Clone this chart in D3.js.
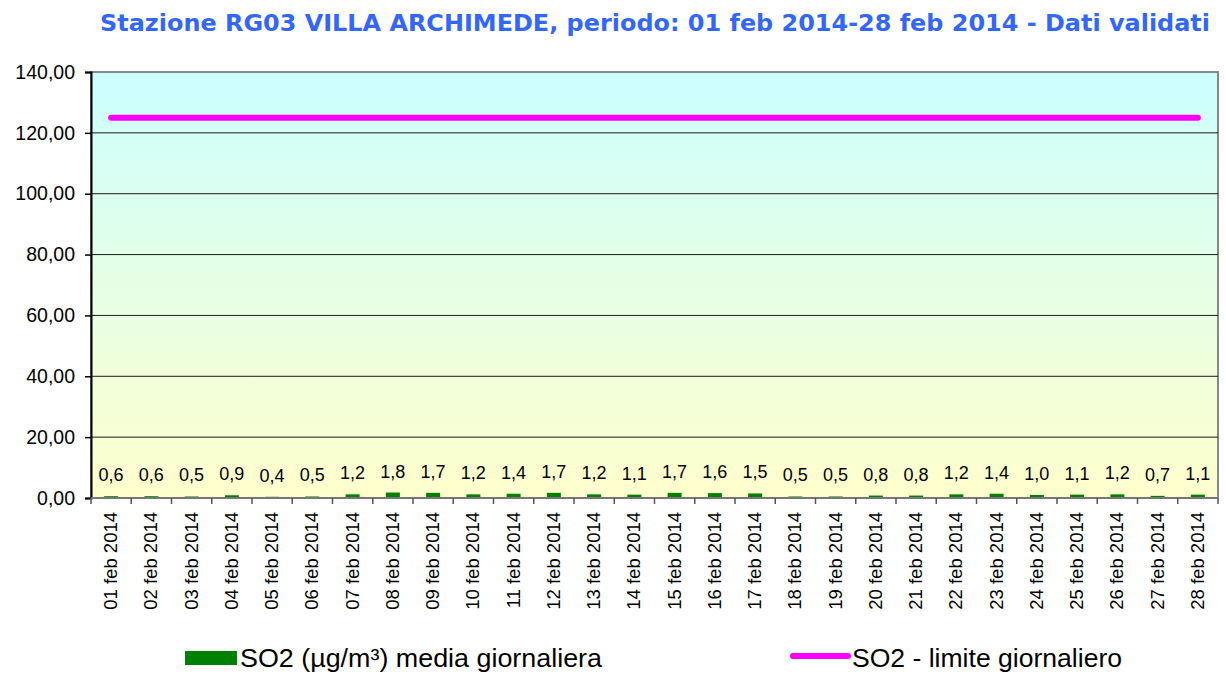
<!DOCTYPE html>
<html>
<head>
<meta charset="utf-8">
<script src="https://cdn.jsdelivr.net/npm/d3@7"></script>
<style>
  body { margin: 0; background: #fff; }
  text { font-family: Arial, "Liberation Sans", sans-serif; }
</style>
</head>
<body>
<div id="chart"></div>
<script>
// data
const days = ['01','02','03','04','05','06','07','08','09','10','11','12','13','14',
  '15','16','17','18','19','20','21','22','23','24','25','26','27','28'];
const dates = days.map(d => d + ' feb 2014');
const so2Values = [0.6,0.6,0.5,0.9,0.4,0.5,1.2,1.8,1.7,1.2,1.4,1.7,1.2,1.1,
  1.7,1.6,1.5,0.5,0.5,0.8,0.8,1.2,1.4,1.0,1.1,1.2,0.7,1.1];
const limitValue = 125;
const yTicks = [0,20,40,60,80,100,120,140];

const width = 1226, height = 675;
const margin = {top: 72, right: 8, bottom: 177, left: 91};
const innerW = width - margin.left - margin.right;
const innerH = height - margin.top - margin.bottom;

const svg = d3.select('#chart').append('svg')
    .attr('width', width)
    .attr('height', height);

const defs = svg.append('defs');
const grad = defs.append('linearGradient')
    .attr('id', 'bg')
    .attr('x1', 0).attr('y1', 0).attr('x2', 0).attr('y2', 1);
grad.append('stop').attr('offset', '0%').attr('stop-color', '#ccffff');
grad.append('stop').attr('offset', '100%').attr('stop-color', '#ffffcc');

const fmt = v => d3.format('.2f')(v).replace('.', ',');
const fmt1 = v => d3.format('.1f')(v).replace('.', ',');

// title
svg.append('text')
    .attr('x', 100)
    .attr('y', 31)
    .attr('textLength', 1110)
    .attr('lengthAdjust', 'spacingAndGlyphs')
    .style('font-family', '"DejaVu Sans", Verdana, sans-serif')
    .style('font-weight', 'bold')
    .style('font-size', '23px')
    .attr('fill', '#3366ff')
    .text('Stazione RG03 VILLA ARCHIMEDE, periodo: 01 feb 2014-28 feb 2014 - Dati validati');

const chart = svg.append('g')
    .attr('transform', `translate(${margin.left},${margin.top})`);

const x = d3.scaleBand()
    .domain(dates)
    .range([0, innerW]);

const y = d3.scaleLinear()
    .domain([0, 140])
    .range([innerH, 0]);

// background
chart.append('rect')
    .attr('width', innerW)
    .attr('height', innerH)
    .attr('fill', 'url(#bg)')
    .attr('stroke', '#888')
    .attr('stroke-width', 2);

// gridlines
chart.append('g')
    .selectAll('line')
    .data(yTicks.filter(t => t > 0 && t < 140))
    .join('line')
    .attr('x1', 0).attr('x2', innerW)
    .attr('y1', d => y(d)).attr('y2', d => y(d))
    .attr('stroke', '#1a1a1a')
    .attr('stroke-width', 1);

// bars
const barW = 14;
chart.selectAll('.bar')
    .data(so2Values)
    .join('rect')
    .attr('class', 'bar')
    .attr('fill', '#008000')
    .attr('x', (d, i) => x(dates[i]) + x.bandwidth() / 2 - barW / 2)
    .attr('width', barW)
    .attr('y', d => y(d))
    .attr('height', d => innerH - y(d));

// value labels
chart.selectAll('.val')
    .data(so2Values)
    .join('text')
    .attr('class', 'val')
    .attr('x', (d, i) => x(dates[i]) + x.bandwidth() / 2)
    .attr('y', d => y(d) - 15)
    .attr('text-anchor', 'middle')
    .style('font-size', '18px')
    .attr('fill', '#000')
    .text(d => fmt1(d));

// limit line
const line = d3.line()
    .x((d, i) => x(dates[i]) + x.bandwidth() / 2)
    .y(() => y(limitValue));
chart.append('path')
    .datum(dates)
    .attr('d', line)
    .attr('fill', 'none')
    .attr('stroke', '#ff00ff')
    .attr('stroke-width', 6)
    .attr('stroke-linecap', 'round');

// axes
const yAxis = d3.axisLeft(y)
    .tickValues(yTicks)
    .tickFormat(fmt)
    .tickSize(6)
    .tickPadding(10);
const yAxisG = chart.append('g').call(yAxis);
yAxisG.select('.domain').attr('stroke', '#000').attr('stroke-width', 2);
yAxisG.selectAll('.tick line').attr('stroke', '#000').attr('stroke-width', 1.5);
yAxisG.selectAll('.tick text')
    .style('font-family', 'Arial, "Liberation Sans", sans-serif')
    .style('font-size', '19.5px')
    .attr('fill', '#000');

const xAxisG = chart.append('g')
    .attr('transform', `translate(0,${innerH})`);
xAxisG.append('line')
    .attr('x1', 0).attr('x2', innerW)
    .attr('stroke', '#777').attr('stroke-width', 2);
xAxisG.selectAll('.xt')
    .data(d3.range(dates.length + 1))
    .join('line')
    .attr('class', 'xt')
    .attr('x1', i => i * x.step()).attr('x2', i => i * x.step())
    .attr('y1', 0).attr('y2', 6)
    .attr('stroke', '#555').attr('stroke-width', 1.5);
xAxisG.selectAll('.xl')
    .data(dates)
    .join('text')
    .attr('class', 'xl')
    .attr('transform', d => `translate(${x(d) + x.bandwidth() / 2 + 6},14) rotate(-90)`)
    .attr('text-anchor', 'end')
    .style('font-size', '18.5px')
    .attr('fill', '#000')
    .text(d => d);

// legend
const leg = svg.append('g');
leg.append('rect')
    .attr('x', 185).attr('y', 651)
    .attr('width', 52).attr('height', 14)
    .attr('fill', '#008000');
leg.append('text')
    .attr('x', 240).attr('y', 667)
    .attr('textLength', 362)
    .attr('lengthAdjust', 'spacingAndGlyphs')
    .style('font-size', '25px')
    .text('SO2 (µg/m³) media giornaliera');
leg.append('line')
    .attr('x1', 793).attr('x2', 848)
    .attr('y1', 656).attr('y2', 656)
    .attr('stroke', '#ff00ff')
    .attr('stroke-width', 6)
    .attr('stroke-linecap', 'round');
leg.append('text')
    .attr('x', 852).attr('y', 667)
    .attr('textLength', 270)
    .attr('lengthAdjust', 'spacingAndGlyphs')
    .style('font-size', '25px')
    .text('SO2 - limite giornaliero');
</script>
</body>
</html>
